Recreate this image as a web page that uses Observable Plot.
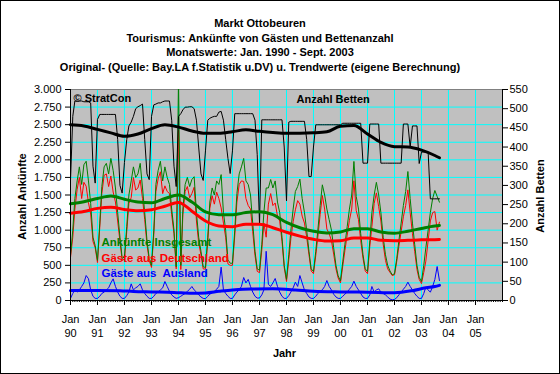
<!DOCTYPE html>
<html><head><meta charset="utf-8">
<script src="https://cdn.jsdelivr.net/npm/d3@7"></script>
<script src="https://cdn.jsdelivr.net/npm/@observablehq/plot@0.6"></script>
<style>
body{margin:0;background:#fff;}
#wrap{position:relative;width:560px;height:374px;overflow:hidden;background:#fff;font-family:"Liberation Sans",Arial,sans-serif;}
#title{position:absolute;left:0;top:16px;width:520px;text-align:center;font-weight:bold;font-size:11px;line-height:14.7px;color:#000;}
#border{position:absolute;left:0;top:0;width:560px;height:374px;box-sizing:border-box;border:1px solid #000;pointer-events:none;}
#chart{position:absolute;left:0;top:0;}
svg text{white-space:pre;}
</style></head><body>
<div id="wrap">
<div id="chart"></div>
<div id="title">Markt Ottobeuren<br>Tourismus: Ankünfte von Gästen und Bettenanzahl<br>Monatswerte: Jan. 1990 - Sept. 2003<br>Original- (Quelle: Bay.LA f.Statistik u.DV) u. Trendwerte (eigene Berechnung)</div>
<div id="border"></div>
</div>
<script>
// Monthly values Jan 1990 - Sep 2003
const gesamt = [
 640,1000,1450,1700,1900,1650,1930,1980,1700,1380,900,780,
 570,1100,1620,1900,1950,1800,2020,1850,1600,1250,900,600,
 620,1050,1500,1700,1900,1750,1800,1950,1600,1250,850,600,
 500,1000,1650,1850,1980,1700,1900,1750,1650,1300,1000,480,
 3150,500,1300,1650,1750,1620,1720,1760,1250,900,700,480,
 470,900,1400,1600,1500,1700,1650,1790,1250,1000,580,530,
 530,1000,1520,1800,1900,2020,1700,1650,1500,1100,700,450,
 430,800,1250,1600,1600,1720,1600,1700,1400,1250,900,500,
 300,650,1000,1300,1550,1620,1725,1450,1250,1000,700,450,
 412,700,1000,1350,1645,1500,1300,1150,1000,750,500,350,
 280,550,800,1050,1300,1500,1977,1480,1300,950,650,450,
 412,850,1250,1500,1680,1500,1250,900,650,500,420,365,
 380,600,850,1100,1350,1550,1834,1450,1100,800,500,330,
 270,500,750,1000,1250,1450,1564,1480,1398
];
const deutschland = [
 610,900,1300,1580,1750,1450,1680,1625,1390,1230,840,750,
 540,1040,1520,1780,1800,1620,1770,1542,1400,1130,840,570,
 590,980,1380,1463,1750,1570,1600,1713,1450,1150,790,570,
 470,940,1550,1730,1830,1520,1630,1550,1520,1220,950,450,
 2420,440,1220,1550,1620,1460,1521,1610,1130,820,650,450,
 445,840,1310,1490,1370,1540,1450,1316,1100,900,520,500,
 500,920,1400,1650,1700,1693,1450,1350,1300,980,640,415,
 395,720,1100,900,1370,1520,1350,1387,1200,1130,840,470,
 270,580,880,1120,1289,1420,1370,1200,1100,900,650,420,
 382,640,900,1220,1493,1300,1016,950,850,660,450,320,
 250,490,710,930,1140,1300,1702,1280,1150,850,600,420,
 382,770,1051,1380,1530,1334,1130,800,570,450,400,355,
 365,560,770,980,1190,1350,1573,1250,950,700,440,300,
 240,400,560,850,1132,1250,1264,1000,1114
];
const ausland = [
 30,100,150,120,150,200,250,355,310,150,60,30,
 30,60,100,120,150,180,250,308,200,120,60,30,
 30,70,120,237,150,180,200,237,150,100,60,30,
 30,60,100,120,150,180,270,200,130,80,50,30,
 40,60,80,100,130,160,199,150,120,80,50,30,
 25,60,90,110,130,160,200,474,150,100,60,30,
 30,80,120,150,200,327,250,300,200,120,60,35,
 35,80,150,700,230,200,250,313,200,120,60,30,
 30,70,120,180,261,200,355,250,150,100,50,30,
 30,60,100,130,152,200,284,200,150,90,50,30,
 30,60,90,120,160,200,275,200,150,100,50,30,
 30,80,199,120,150,166,120,100,80,50,20,10,
 15,40,80,120,160,200,261,200,150,100,60,30,
 30,100,190,150,118,200,300,483,284
];
const betten = [
 313,480,520,520,520,520,518,518,518,515,350,306,
 472,485,485,485,485,485,485,485,485,420,300,280,
 360,420,455,465,480,500,505,508,512,420,330,315,
 480,510,512,515,515,518,520,520,520,470,350,297,
 480,487,497,504,504,505,505,500,470,400,330,313,
 390,470,475,478,480,480,491,493,470,420,370,331,
 390,487,487,487,487,487,487,487,487,487,470,380,
 200,471,471,471,471,471,471,471,471,471,471,400,
 260,465,467,467,467,467,467,467,467,420,323,323,
 400,458,458,458,458,458,458,458,458,458,458,458,
 458,462,462,462,462,462,462,462,462,462,358,358,
 358,460,460,460,460,460,358,358,358,358,358,358,
 358,358,358,358,460,460,460,400,455,455,455,357,
 387,387,387,387,265,265,265,265,265
];
// Trend values: [month index from Jan 1990, value]
const trendGesamt = [[0,1375],[6,1405],[12,1450],[18,1485],[24,1440],[30,1400],[36,1390],[42,1450],[48,1500],[54,1400],[60,1260],[66,1220],[72,1218],[78,1250],[84,1262],[90,1220],[96,1110],[102,1035],[108,985],[114,960],[120,975],[126,1020],[132,1020],[138,975],[144,957],[150,985],[156,1025],[162,1060],[164,1066]];
const trendDeutschland = [[0,1242],[6,1265],[12,1310],[18,1327],[24,1295],[30,1275],[36,1290],[42,1340],[48,1395],[54,1270],[60,1130],[66,1060],[72,1050],[78,1085],[84,1085],[90,1035],[96,970],[102,915],[108,870],[114,845],[120,850],[126,890],[132,890],[138,855],[144,850],[150,855],[156,862],[162,865],[164,867]];
const trendAusland = [[0,142],[12,142],[22,140],[28,128],[36,122],[46,115],[54,103],[60,108],[66,130],[72,150],[80,165],[90,166],[100,150],[108,130],[120,122],[132,118],[144,110],[152,140],[158,180],[162,199],[164,215]];
const trendBetten = [[0,458],[6,455],[12,446],[18,437],[24,428],[30,434],[36,448],[42,458],[48,452],[54,442],[60,436],[66,436],[72,440],[78,445],[84,441],[90,438],[96,436],[102,436],[108,437],[114,440],[120,454],[126,456],[132,434],[138,412],[144,401],[150,400],[156,392],[162,378],[164,372]];

const leftTicks = d3.range(0, 3001, 250);
const rightTicks = d3.range(0, 551, 50);
const years = d3.range(1990, 2006);

// helpers
const mDate = i => new Date(Date.UTC(1990, i, 1));
const bToY = b => b * 3000 / 550;
const ser = vals => vals.map((v, i) => ({date: mDate(i), value: v}));
const tr = (pairs, f = v => v) => pairs.map(([i, v]) => ({date: mDate(i), value: f(v)}));
const yearTicks = years.map(y => new Date(Date.UTC(y, 0, 1)));
const monthTicks = d3.range(0, 16 * 12 + 1).map(mDate);
const xDomain = [new Date(Date.UTC(1990, 0, 1)), new Date(Date.UTC(2006, 0, 1))];
const fmtDE = d => d3.format(",")(d).replace(/,/g, ".");
const bold = {fontWeight: "bold", fontSize: 11};

const chart = Plot.plot({
  width: 560, height: 374,
  marginTop: 89, marginBottom: 74, marginLeft: 70, marginRight: 58,
  x: {type: "utc", domain: xDomain},
  y: {domain: [0, 3000]},
  style: {fontFamily: "'Liberation Sans', Arial, sans-serif", fontSize: "11px", color: "#000", background: "transparent", overflow: "visible"},
  marks: [
    Plot.frame({fill: "#C0C0C0", stroke: null}),
    Plot.gridX(yearTicks.slice(1), {stroke: "#00FFFF", strokeOpacity: 1, strokeWidth: 1}),
    Plot.gridY(leftTicks.slice(1, -1), {stroke: "#00FFFF", strokeOpacity: 1, strokeWidth: 1}),
    Plot.frame({stroke: "#808080"}),
    Plot.line(ser(deutschland), {x: "date", y: "value", stroke: "#FF0000", strokeWidth: 1, clip: true}),
    Plot.line(ser(gesamt), {x: "date", y: "value", stroke: "#008000", strokeWidth: 1, clip: true}),
    Plot.line(ser(ausland), {x: "date", y: "value", stroke: "#0000FF", strokeWidth: 1, clip: true}),
    Plot.line(ser(betten.map(bToY)), {x: "date", y: "value", stroke: "#000", strokeWidth: 1, clip: true}),
    Plot.line(tr(trendGesamt), {x: "date", y: "value", stroke: "#008000", strokeWidth: 3, curve: "monotone-x"}),
    Plot.line(tr(trendDeutschland), {x: "date", y: "value", stroke: "#FF0000", strokeWidth: 3, curve: "monotone-x"}),
    Plot.line(tr(trendAusland), {x: "date", y: "value", stroke: "#0000FF", strokeWidth: 3, curve: "monotone-x"}),
    Plot.line(tr(trendBetten, bToY), {x: "date", y: "value", stroke: "#000", strokeWidth: 3, curve: "monotone-x"}),
    Plot.ruleX([xDomain[0], xDomain[1]], {stroke: "#000"}),
    Plot.ruleY([0], {stroke: "#000"}),
    Plot.axisY(leftTicks, {anchor: "left", tickFormat: fmtDE, tickSize: 5, tickPadding: 4, label: null}),
    Plot.axisY(rightTicks.map(bToY), {anchor: "right", tickFormat: d => String(Math.round(d * 550 / 3000)), tickSize: 5, tickPadding: 2, label: null}),
    Plot.axisX(monthTicks, {anchor: "bottom", tickSize: 2, tickFormat: () => "", label: null}),
    Plot.axisX(yearTicks, {anchor: "bottom", tickSize: 5, tickPadding: 7.5, lineHeight: 1.27, tickFormat: d => "Jan\n" + String(d.getUTCFullYear() % 100).padStart(2, "0"), label: null}),
    Plot.text(["© StratCon"], {text: d => d, frameAnchor: "top-left", dx: 3, dy: 5, ...bold}),
    Plot.text(["Anzahl Betten"], {text: d => d, frameAnchor: "top-left", dx: 226, dy: 6, ...bold}),
    Plot.text(["Ankünfte Insgesamt"], {text: d => d, frameAnchor: "top-left", dx: 31, dy: 148, fill: "#008000", fontWeight: "bold", fontSize: 11.5}),
    Plot.text(["Gäste aus Deutschland"], {text: d => d, frameAnchor: "top-left", dx: 31, dy: 164, fill: "#FF0000", fontWeight: "bold", fontSize: 11.5}),
    Plot.text(["Gäste aus  Ausland"], {text: d => d, frameAnchor: "top-left", dx: 31, dy: 179.5, fill: "#0000FF", fontWeight: "bold", fontSize: 11.5}),
    Plot.text(["Anzahl Ankünfte"], {text: d => d, frameAnchor: "left", dx: -48, dy: 1.5, rotate: -90, textAnchor: "middle", lineAnchor: "middle", ...bold}),
    Plot.text(["Anzahl Betten"], {text: d => d, frameAnchor: "right", dx: 38, dy: 1, rotate: -90, textAnchor: "middle", lineAnchor: "middle", ...bold}),
    Plot.text(["Jahr"], {text: d => d, frameAnchor: "bottom", dx: -2, dy: 53, lineAnchor: "middle", ...bold})
  ]
});
document.getElementById("chart").appendChild(chart);
</script>
</body></html>
